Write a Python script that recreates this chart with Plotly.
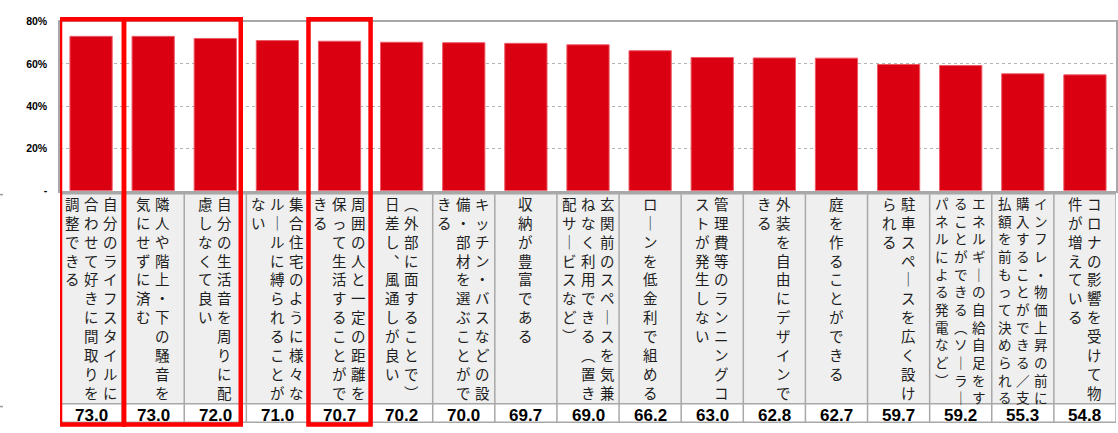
import plotly.graph_objects as go

# ---- data ----
labels = [
    "自分のライフスタイルに\n合わせて好きに間取りを\n調整できる",
    "隣人や階上・下の騒音を\n気にせずに済む",
    "自分の生活音を周りに配\n慮しなくて良い",
    "集合住宅のように様々な\nルールに縛られることが\nない",
    "周囲の人と一定の距離を\n保って生活することがで\nきる",
    "（外部に面することで）\n日差し、風通しが良い",
    "キッチン・バスなどの設\n備・部材を選ぶことがで\nきる",
    "収納が豊富である",
    "玄関前のスペースを気兼\nねなく利用できる（置き\n配サービスなど）",
    "ローンを低金利で組める",
    "管理費等のランニングコ\nストが発生しない",
    "外装を自由にデザインで\nきる",
    "庭を作ることができる",
    "駐車スペースを広く設け\nられる",
    "エネルギーの自給自足をす\nることができる（ソーラー\nパネルによる発電など）",
    "インフレ・物価上昇の前に\n購入することができる／支\n払額を前もって決められる",
    "コロナの影響を受けて物\n件が増えている",
]
values = [73.0, 73.0, 72.0, 71.0, 70.7, 70.2, 70.0, 69.7, 69.0, 66.2, 63.0,
          62.8, 62.7, 59.7, 59.2, 55.3, 54.8]
y_tickvals = [0, 20, 40, 60, 80]
y_ticktext = ["-", "20%", "40%", "60%", "80%"]
highlight_groups = [(0, 0), (1, 2), (4, 4)]  # column index ranges framed in red

# ---- geometry helpers ----
W, H = 1118, 433
def py(ypx):
    return (H - ypx) / H

n = len(values)
xs = list(range(n))

fig = go.Figure()
fig.add_trace(go.Bar(
    x=xs, y=values,
    marker=dict(color="#DA0011", line=dict(color="#EE5A66", width=1)),
    hoverinfo="skip",
))

shapes = []
annotations = []

# table
tbl_top, tbl_mid, tbl_bot = 193, 409, 428
grey = "#A8A8A8"
shapes.append(dict(type="rect", xref="x", yref="paper", x0=-0.5, x1=n - 0.5,
                   y0=py(tbl_mid), y1=py(tbl_top), fillcolor="#EFEFEF",
                   line=dict(width=0), layer="below"))
shapes.append(dict(type="rect", xref="x", yref="paper", x0=-0.5, x1=n - 0.5,
                   y0=py(tbl_bot), y1=py(tbl_mid), fillcolor="#FFFFFF",
                   line=dict(width=0), layer="below"))
for yy in (tbl_top, tbl_mid, tbl_bot):
    shapes.append(dict(type="line", xref="x", yref="paper", x0=-0.5, x1=n - 0.5,
                       y0=py(yy), y1=py(yy), line=dict(color=grey, width=1.5)))
for i in range(n + 1):
    shapes.append(dict(type="line", xref="x", yref="paper", x0=i - 0.5, x1=i - 0.5,
                       y0=py(tbl_bot), y1=py(tbl_top), line=dict(color=grey, width=1.5)))

# vertical-writing labels
vmap = {"ー": "｜", "（": "︵", "）": "︶", "、": "︑"}
for i, lab in enumerate(labels):
    cols = lab.split("\n")
    rows = max(len(c) for c in cols)
    if rows >= 12:
        fs, pitch = 13.6, 18.3
    else:
        fs, pitch = 14.5, 19.0
    m = len(cols)
    for k, c in enumerate(cols):
        txt = "<br>".join(vmap.get(ch, ch) for ch in c)
        annotations.append(dict(
            x=i, y=py(191), xref="x", yref="paper", xanchor="center", yanchor="top",
            xshift=((m - 1) / 2 - k) * pitch, text=txt, showarrow=False, align="center",
            borderpad=0,
            font=dict(family="Noto Sans CJK JP", size=fs, color="#1E1E1E"),
        ))
    annotations.append(dict(
        x=i, y=py(421), xref="x", yref="paper", xanchor="center", yanchor="middle",
        text=f"{values[i]:.1f}", showarrow=False, borderpad=0,
        font=dict(family="Liberation Sans, Arial", size=17, color="#000000", weight="bold"),
    ))

# red highlight frames
adj = {0: (0.0, 0.03), 1: (0.03, -0.09), 2: (0.0, 0.0)}
for g, (a, b) in enumerate(highlight_groups):
    da, db = adj[g]
    shapes.append(dict(type="rect", xref="x", yref="paper",
                       x0=a - 0.5 + da, x1=b + 0.5 + db,
                       y0=py(430.5), y1=py(13.5),
                       line=dict(color="#FF0000", width=4.5)))

# tiny marks at left edge
for yy in (194, 412):
    shapes.append(dict(type="line", xref="paper", yref="paper", x0=0, x1=3 / W,
                       y0=py(yy), y1=py(yy), line=dict(color="#9A9A9A", width=1.5)))

fig.update_layout(
    width=W, height=H,
    margin=dict(l=0, r=0, t=0, b=0),
    paper_bgcolor="white", plot_bgcolor="white",
    showlegend=False, bargap=0.32,
    shapes=shapes, annotations=annotations,
    xaxis=dict(domain=[60 / W, 1116 / W], range=[-0.5, n - 0.5],
               showticklabels=False, ticks="", showgrid=False, zeroline=False,
               showline=True, mirror=True, linecolor="#A8A8A8", linewidth=1.5,
               fixedrange=True),
    yaxis=dict(domain=[py(190), py(16)], range=[0, 80],
               tickvals=y_tickvals, ticktext=y_ticktext,
               tickfont=dict(family="Liberation Sans, Arial", size=10.5, color="#000000",
                             weight="bold"),
               ticks="", ticklabelstandoff=9,
               showgrid=True, gridcolor="#B4B4B4", griddash="dot", gridwidth=1,
               zeroline=False, showline=True, mirror=True,
               linecolor="#A8A8A8", linewidth=1.5, fixedrange=True),
)

fig.write_html("out.html", config={"displayModeBar": False},
               post_script="document.body.style.margin='0';document.body.style.overflow='hidden';")
